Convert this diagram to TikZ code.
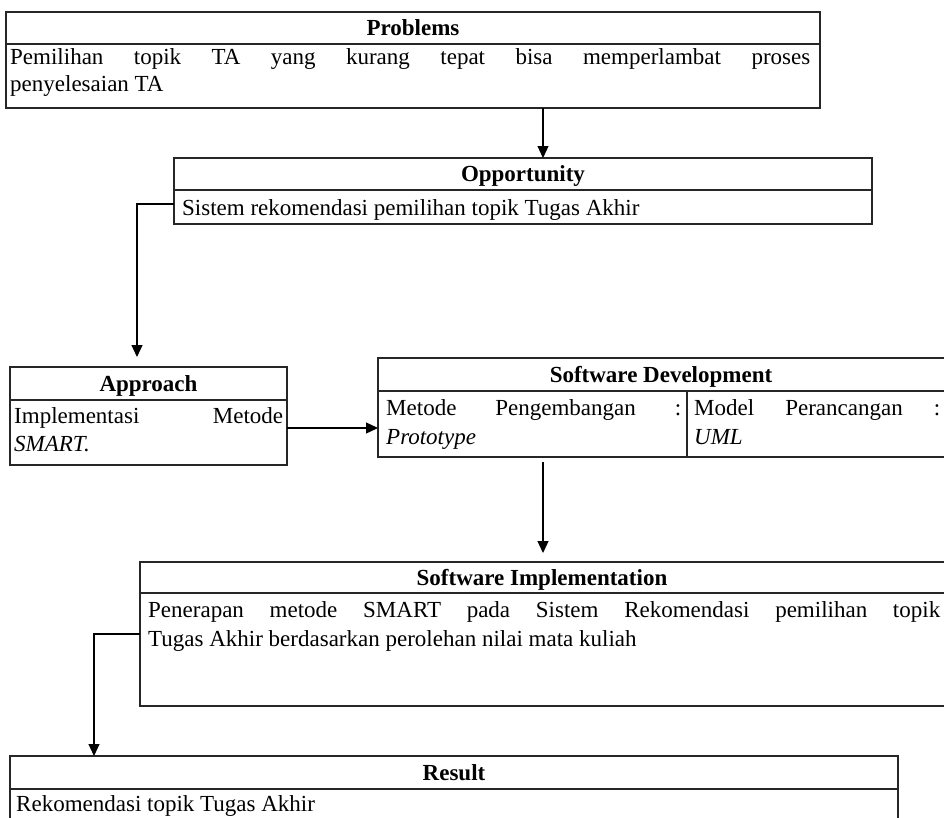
\documentclass[tikz,border=0pt]{standalone}
\usepackage{fontspec}
\setmainfont{Liberation Serif}
\usetikzlibrary{arrows.meta,calc}
\newcommand\jl[2]{\makebox[#1][s]{#2}}
\tikzset{
  frame/.style={draw=black!85, line width=1.3pt, inner sep=0pt, outer sep=0pt, anchor=north west},
  sepline/.style={draw=black!85, line width=1.3pt},
  ttl/.style={font=\fontsize{23}{28}\selectfont\bfseries, inner sep=0pt, anchor=base},
  txt/.style={font=\fontsize{23}{28}\selectfont, inner sep=0pt, anchor=base west},
  conn/.style={draw=black, line width=1.2pt, -{Triangle[width=11pt,length=12pt]}},
}
\begin{document}
\begin{tikzpicture}[x=1pt,y=-1pt]
\useasboundingbox (0,0) rectangle (944,817);
\clip (0,0) rectangle (944,817);
\fill[white] (0,0) rectangle (944,817);

% Problems
\node[frame, minimum width=814pt, minimum height=96pt] (prob) at (6,12) {};
\draw[sepline] (6,44) -- (820,44);
\node[ttl] (probT) at (413,35) {Problems};
\node[txt] (probL1) at (10,64) {\jl{800pt}{Pemilihan topik TA yang kurang tepat bisa memperlambat proses}};
\node[txt] (probL2) at (10,91) {penyelesaian TA};

% Opportunity
\node[frame, minimum width=698pt, minimum height=66pt] (opp) at (174,158) {};
\draw[sepline] (174,190) -- (872,190);
\node[ttl] (oppT) at (523,181) {Opportunity};
\node[txt] (oppL1) at (182,215) {Sistem rekomendasi pemilihan topik Tugas Akhir};

% Approach
\node[frame, minimum width=277pt, minimum height=98pt] (appr) at (10,367) {};
\draw[sepline] (10,400) -- (287,400);
\node[ttl] (apprT) at (148.5,391) {Approach};
\node[txt] (apprL1) at (14,423) {\jl{269pt}{Implementasi Metode}};
\node[txt] (apprL2) at (14,451) {\textit{SMART.}};

% Software Development
\node[frame, minimum width=580pt, minimum height=99pt] (sd) at (378,358) {};
\draw[sepline] (378,391) -- (960,391);
\draw[sepline] (687,391) -- (687,457);
\node[ttl] (sdT) at (661,382) {Software Development};
\node[txt] (sdL1) at (386,415) {\jl{295pt}{Metode Pengembangan :}};
\node[txt] (sdL2) at (386,444) {\textit{Prototype}};
\node[txt] (sdR1) at (694,415) {\jl{246pt}{Model Perancangan :}};
\node[txt] (sdR2) at (694,444) {\textit{UML}};

% Software Implementation
\node[frame, minimum width=820pt, minimum height=144pt] (si) at (140,562) {};
\draw[sepline] (140,593) -- (960,593);
\node[ttl] (siT) at (542,585) {Software Implementation};
\node[txt] (siL1) at (148,617) {\jl{792pt}{Penerapan metode SMART pada Sistem Rekomendasi pemilihan topik}};
\node[txt] (siL2) at (148,646) {Tugas Akhir berdasarkan perolehan nilai mata kuliah};

% Result
\node[frame, minimum width=888pt, minimum height=90pt] (res) at (10,756) {};
\draw[sepline] (10,789) -- (898,789);
\node[ttl] (resT) at (454,780) {Result};
\node[txt] (resL1) at (16,811) {Rekomendasi topik Tugas Akhir};

% Connectors
\draw[conn] ($(prob.south west)+(537,0)$) -- ($(opp.north west)+(369,0)$);
\draw[conn] ($(opp.south west)+(0,-20)$) -| ($(appr.north west)+(127,-10)$);
\draw[conn] ($(appr.north east)+(0,61)$) -- ($(sd.north west)+(0,70)$);
\draw[conn] ($(sd.south west)+(165,5)$) -- ($(si.north west)+(403,-9)$);
\draw[conn] ($(si.north west)+(0,72)$) -| ($(res.north west)+(84,0)$);
\end{tikzpicture}
\end{document}
